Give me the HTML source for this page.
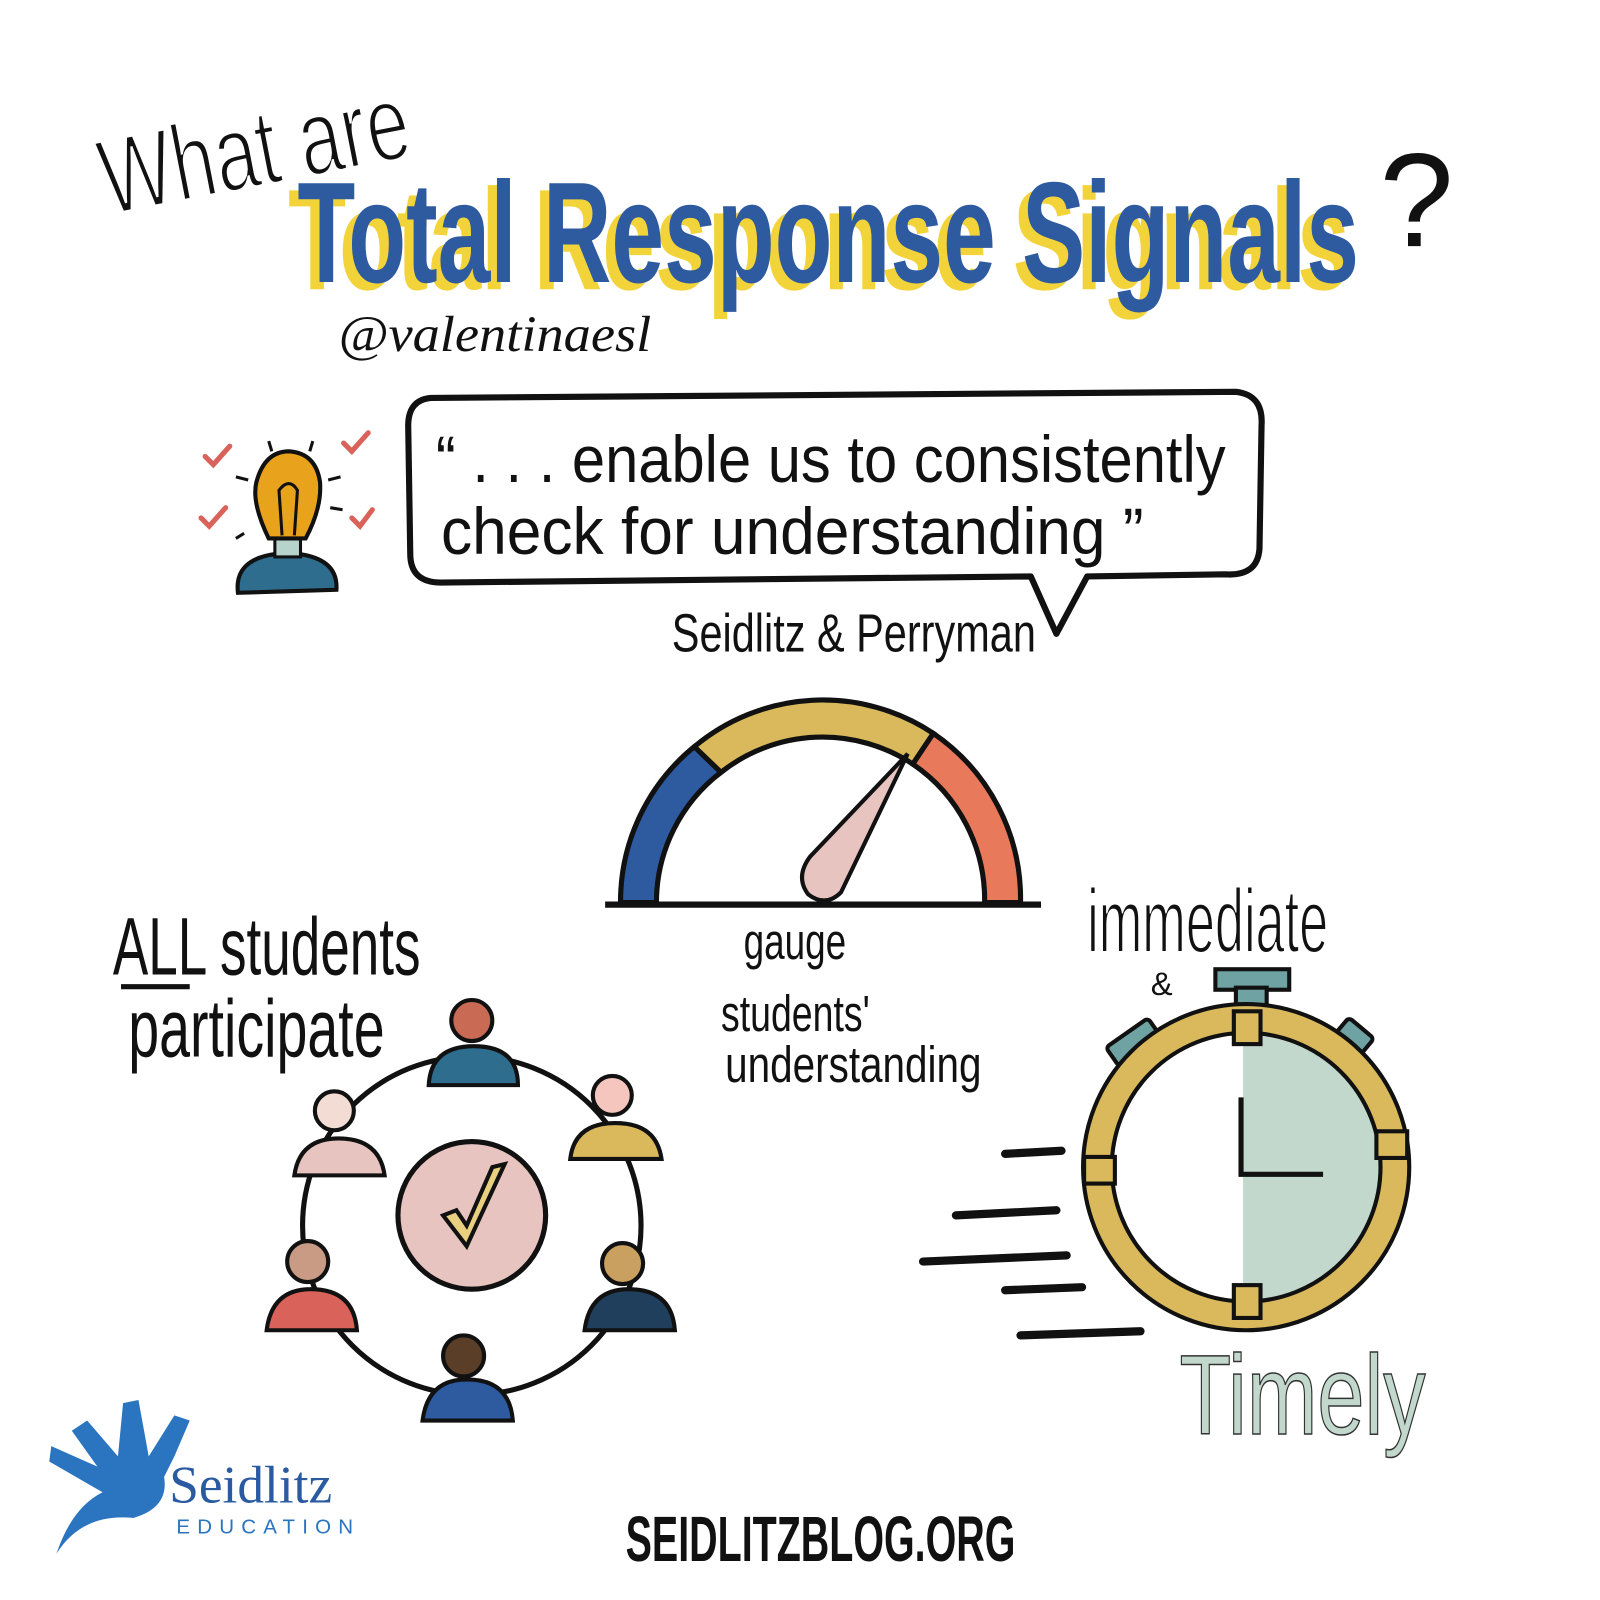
<!DOCTYPE html>
<html><head><meta charset="utf-8"><style>
html,body{margin:0;padding:0;background:#fff}
svg{display:block}
</style></head><body>
<svg width="1600" height="1600" viewBox="0 0 1560 1560" xmlns="http://www.w3.org/2000/svg">
<rect width="1560" height="1560" fill="#fff"/>
<!-- What are -->
<text x="105" y="210" transform="rotate(-11 105 210)" font-family="Liberation Sans Narrow, Liberation Sans, sans-serif" font-size="105" fill="#111" stroke="#fff" stroke-width="3" paint-order="fill" textLength="305" lengthAdjust="spacingAndGlyphs">What are</text>
<!-- Title -->
<g font-family="Liberation Sans Narrow, Liberation Sans, sans-serif" font-weight="bold" font-size="140">
<text x="281" y="282" fill="#f3d33a" textLength="1035" lengthAdjust="spacingAndGlyphs">Total Response Signals</text>
<text x="290" y="275" fill="#2e5aa0" textLength="1035" lengthAdjust="spacingAndGlyphs">Total Response Signals</text>
</g>
<text x="1345" y="240" font-family="Liberation Sans, sans-serif" font-size="130" fill="#111">?</text>
<text x="330" y="342" font-family="Liberation Serif, serif" font-style="italic" font-size="50" fill="#111" textLength="305" lengthAdjust="spacingAndGlyphs">@valentinaesl</text>
<!-- Bubble -->
<path d="M420 388 L1205 382 Q1232 385 1230 415 L1228 535 Q1226 562 1195 560 L1060 562 L1030 618 L1005 562 L430 568 Q400 568 400 540 L398 415 Q398 390 420 388 Z" fill="none" stroke="#111" stroke-width="6" stroke-linejoin="round"/>
<g font-family="Liberation Sans Narrow, Liberation Sans, sans-serif" font-size="64" fill="#111">
<text x="425" y="470" textLength="770" lengthAdjust="spacingAndGlyphs">“ . . . enable us to consistently</text>
<text x="430" y="540" textLength="685" lengthAdjust="spacingAndGlyphs">check for understanding ”</text>
<text x="655" y="635" font-size="52" textLength="355" lengthAdjust="spacingAndGlyphs">Seidlitz &amp; Perryman</text>
</g>
<!-- lightbulb -->
<path d="M232 578 Q228 545 270 540 L290 540 Q330 545 328 575 Z" fill="#2f6d8f" stroke="#111" stroke-width="4"/>
<rect x="268" y="525" width="25" height="18" fill="#b7d4cc" stroke="#111" stroke-width="3"/>
<path d="M262 525 Q245 490 250 470 Q258 440 282 440 Q308 442 312 470 Q314 495 298 525 Z" fill="#e8a21c" stroke="#111" stroke-width="4"/>
<path d="M275 522 L272 478 Q282 465 290 478 L287 522" fill="none" stroke="#111" stroke-width="3"/>
<g stroke="#d9625a" stroke-width="5" fill="none" stroke-linecap="round">
<path d="M200 445 l8 8 l16 -18"/><path d="M335 432 l8 8 l16 -18"/><path d="M196 505 l8 8 l16 -18"/><path d="M343 505 l8 8 l12 -16"/>
</g>
<g stroke="#111" stroke-width="3"><path d="M262 430 l3 10M305 430 l-3 10M230 465 l12 3M320 468 l12 -3M238 520 l-8 5M322 495 l12 2"/></g>
<!-- Gauge -->
<path d="M605 880 A195 195 0 0 1 677 728 L703 753 A160 160 0 0 0 640 880 Z" fill="#2e5aa0" stroke="#111" stroke-width="5"/>
<path d="M677 728 A195 195 0 0 1 910 715 L890 745 A160 160 0 0 0 703 753 Z" fill="#d9b95c" stroke="#111" stroke-width="5"/>
<path d="M910 715 A195 195 0 0 1 995 880 L960 880 A160 160 0 0 0 890 745 Z" fill="#e8795a" stroke="#111" stroke-width="5"/>
<line x1="590" y1="882" x2="1015" y2="882" stroke="#111" stroke-width="6"/>
<path d="M885 735 L820 870 Q805 885 788 872 Q775 855 790 835 Z" fill="#e8c4c0" stroke="#111" stroke-width="4"/>
<g font-family="Liberation Sans Narrow, Liberation Sans, sans-serif" font-size="50" fill="#111">
<text x="725" y="935" textLength="100" lengthAdjust="spacingAndGlyphs">gauge</text>
<text x="703" y="1005" textLength="145" lengthAdjust="spacingAndGlyphs">students'</text>
<text x="707" y="1055" textLength="250" lengthAdjust="spacingAndGlyphs">understanding</text>
</g>
<!-- ALL students -->
<g font-family="Liberation Sans Narrow, Liberation Sans, sans-serif" font-size="80" fill="#111">
<text x="110" y="950" textLength="300" lengthAdjust="spacingAndGlyphs">ALL students</text>
<text x="125" y="1030" textLength="250" lengthAdjust="spacingAndGlyphs">participate</text>
</g>
<line x1="118" y1="962" x2="185" y2="962" stroke="#111" stroke-width="5"/>
<!-- circle of people -->
<circle cx="460" cy="1195" r="165" fill="none" stroke="#111" stroke-width="5"/>
<circle cx="460" cy="1185" r="72" fill="#e8c4c0" stroke="#111" stroke-width="5"/>
<path d="M432 1185 L455 1215 L492 1135 L480 1138 L455 1195 L445 1180 Z" fill="#e8d080" stroke="#111" stroke-width="4"/>
<g stroke="#111" stroke-width="4">
<path d="M418 1058 Q420 1020 462 1020 Q505 1020 505 1058 Z" fill="#2f6d8f"/><circle cx="460" cy="995" r="20" fill="#c96a55"/>
<path d="M556 1130 Q560 1095 600 1095 Q640 1095 645 1130 Z" fill="#d9b95c"/><circle cx="597" cy="1068" r="19" fill="#f5c6bd"/>
<path d="M287 1146 Q292 1110 330 1110 Q370 1110 375 1146 Z" fill="#e8c4c0"/><circle cx="326" cy="1083" r="19" fill="#f2dcd3"/>
<path d="M260 1297 Q265 1257 303 1257 Q345 1257 348 1297 Z" fill="#d9625a"/><circle cx="300" cy="1230" r="20" fill="#c99a84"/>
<path d="M570 1297 Q575 1257 613 1257 Q655 1257 658 1297 Z" fill="#1f3f5c"/><circle cx="607" cy="1232" r="20" fill="#c9a060"/>
<path d="M412 1385 Q417 1345 455 1345 Q497 1345 500 1385 Z" fill="#2e5aa0"/><circle cx="452" cy="1322" r="20" fill="#5a3e28"/>
</g>
<!-- immediate -->
<g font-family="Liberation Sans Narrow, Liberation Sans, sans-serif" fill="#111">
<text x="1060" y="928" font-size="88" stroke="#fff" stroke-width="2" textLength="235" lengthAdjust="spacingAndGlyphs">immediate</text>
<text x="1122" y="970" font-size="32">&amp;</text>
</g>
<!-- stopwatch -->
<rect x="1185" y="945" width="72" height="20" fill="#6fa3a3" stroke="#111" stroke-width="4"/>
<rect x="1205" y="963" width="30" height="20" fill="#6fa3a3" stroke="#111" stroke-width="4"/>
<rect x="1080" y="1005" width="50" height="22" rx="4" transform="rotate(-35 1105 1016)" fill="#6fa3a3" stroke="#111" stroke-width="4"/>
<rect x="1305" y="1000" width="32" height="20" rx="4" transform="rotate(40 1321 1010)" fill="#6fa3a3" stroke="#111" stroke-width="4"/>
<path d="M1212 1005 A135 135 0 0 1 1212 1275 Z" fill="#c2d8cc"/>
<circle cx="1215" cy="1138" r="145" fill="none" stroke="#111" stroke-width="32"/>
<circle cx="1215" cy="1138" r="145" fill="none" stroke="#d9b95c" stroke-width="24"/>
<g fill="#d9b95c" stroke="#111" stroke-width="4">
<rect x="1203" y="986" width="26" height="32"/><rect x="1203" y="1253" width="26" height="32"/>
<rect x="1057" y="1128" width="30" height="26"/><rect x="1342" y="1103" width="30" height="26"/>
</g>
<path d="M1210 1070 L1210 1145 L1290 1145" fill="none" stroke="#111" stroke-width="5"/>
<g stroke="#111" stroke-width="8" stroke-linecap="round">
<line x1="980" y1="1125" x2="1035" y2="1122"/><line x1="932" y1="1185" x2="1030" y2="1180"/>
<line x1="900" y1="1230" x2="1040" y2="1224"/><line x1="980" y1="1258" x2="1055" y2="1255"/>
<line x1="995" y1="1302" x2="1112" y2="1298"/>
</g>
<text x="1150" y="1398" font-family="Liberation Sans Narrow, Liberation Sans, sans-serif" font-size="110" fill="#c2d8cc" stroke="#333" stroke-width="1.5" textLength="240" lengthAdjust="spacingAndGlyphs">Timely</text>
<!-- logo -->
<path d="M55 1515 Q80 1475 130 1480 Q165 1470 160 1440 L170 1420 L185 1385 L170 1380 L145 1420 L135 1365 L120 1368 L115 1420 L85 1385 L70 1395 L95 1430 L50 1410 L48 1425 L100 1455 Q70 1470 55 1515 Z" fill="#2a74c0"/>
<text x="165" y="1465" font-family="Liberation Serif, serif" font-size="52" fill="#2a5aa0">Seidlitz</text>
<text x="172" y="1495" font-family="Liberation Sans, sans-serif" font-size="20" fill="#2a74c0" letter-spacing="7">EDUCATION</text>
<text x="610" y="1522" font-family="Liberation Sans Narrow, Liberation Sans, sans-serif" font-weight="bold" font-size="62" fill="#111" textLength="380" lengthAdjust="spacingAndGlyphs">SEIDLITZBLOG.ORG</text>
</svg>
</body></html>
